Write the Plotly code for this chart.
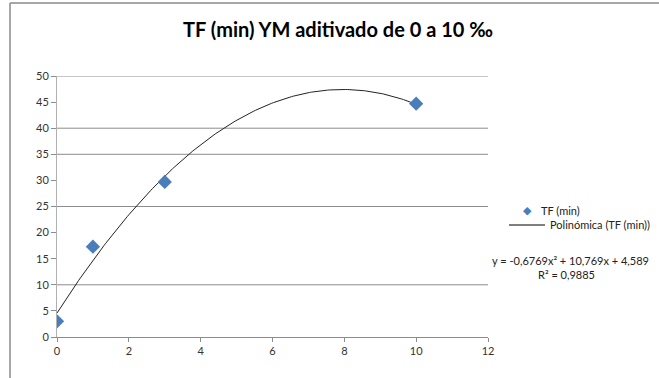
import numpy as np
import plotly.graph_objects as go

# Measured data: additive dose (‰) vs TF (min)
dose = [0, 1, 3, 10]
tf_min = [3.0, 17.3, 29.7, 44.7]

# Polynomial trendline coefficients (order 2)
coef_a, coef_b, coef_c = -0.6769, 10.769, 4.589
r_squared = 0.9885

x_ticks = [0, 2, 4, 6, 8, 10, 12]
y_ticks = [0, 5, 10, 15, 20, 25, 30, 35, 40, 45, 50]
grid_levels = [10, 25, 35, 40, 50]

title_text = "TF (min) YM aditivado de 0 a 10 ‰"
series_name = "TF (min)"
trend_name = "Polinómica (TF (min))"

FONT = "Lato, 'Open Sans', sans-serif"
BLUE = "#4A7EBB"
GRID = "#8C8C8C"

xs = np.linspace(min(dose), max(dose), 200)
ys = coef_a * xs**2 + coef_b * xs + coef_c

fig = go.Figure()
fig.add_trace(go.Scatter(
    x=xs, y=ys, mode="lines", name=trend_name,
    line=dict(color="#222222", width=1), showlegend=False, hoverinfo="skip",
))
fig.add_trace(go.Scatter(
    x=dose, y=tf_min, mode="markers", name=series_name,
    marker=dict(symbol="diamond", size=11, color=BLUE), showlegend=False,
))


def px_x(p):
    return (p - 57) / 431


def px_y(p):
    return (337 - p) / 261


shapes = []
for g in grid_levels:
    shapes.append(dict(type="line", xref="paper", yref="y", x0=0, x1=1, y0=g, y1=g,
                       line=dict(color=GRID, width=1), layer="below"))
# outer chart frame (left and top edges)
shapes.append(dict(type="line", xref="paper", yref="paper", x0=px_x(10), x1=px_x(10),
                   y0=px_y(390), y1=px_y(3), line=dict(color="#8A8A8A", width=1.5)))
shapes.append(dict(type="line", xref="paper", yref="paper", x0=px_x(10), x1=px_x(700),
                   y0=px_y(3), y1=px_y(3), line=dict(color="#8A8A8A", width=1.5)))
# legend line sample
shapes.append(dict(type="line", xref="paper", yref="paper", x0=px_x(509),
                   x1=px_x(545), y0=px_y(225), y1=px_y(225),
                   line=dict(color="#000000", width=1)))

text_font = dict(family=FONT, size=11, color="#222222")
annotations = [
    dict(text="◆", x=px_x(527), y=px_y(211), xref="paper", yref="paper",
         xanchor="center", showarrow=False,
         font=dict(family="DejaVu Sans", size=11, color=BLUE)),
    dict(text=series_name, x=px_x(539), y=px_y(211), xref="paper", yref="paper",
         xanchor="left", showarrow=False, font=text_font),
    dict(text=trend_name, x=px_x(548), y=px_y(225), xref="paper", yref="paper",
         xanchor="left", showarrow=False, font=text_font),
    dict(text=f"y = {coef_a:.4f}x² + {coef_b:.3f}x + {coef_c:.3f}".replace(".", ","),
         x=px_x(570), y=px_y(269), xref="paper", yref="paper", xanchor="center",
         showarrow=False, font=text_font),
    dict(text=f"R² = {r_squared:.4f}".replace(".", ","),
         x=px_x(566), y=px_y(283), xref="paper", yref="paper", xanchor="center",
         showarrow=False, font=text_font),
]

fig.update_layout(
    width=659, height=378,
    margin=dict(l=57, r=171, t=76, b=41),
    paper_bgcolor="white", plot_bgcolor="white",
    title=dict(text=f"<b>{title_text}</b>", x=338 / 659, xanchor="center",
               y=1 - 30 / 378, yanchor="middle",
               font=dict(family=FONT, size=20, color="#000000")),
    xaxis=dict(range=[0, 12], tickvals=x_ticks, showgrid=False, zeroline=False,
               showline=True, linecolor=GRID, linewidth=1, ticks="outside",
               ticklen=4, tickcolor=GRID,
               tickfont=dict(family=FONT, size=11, color="#333333")),
    yaxis=dict(range=[0, 50], tickvals=y_ticks, showgrid=False, zeroline=False,
               showline=True, linecolor="#B0B0B0", linewidth=1, ticks="outside",
               ticklen=5, tickcolor=GRID,
               tickfont=dict(family=FONT, size=11, color="#333333")),
    shapes=shapes, annotations=annotations, showlegend=False,
)

fig.write_html("out.html")
